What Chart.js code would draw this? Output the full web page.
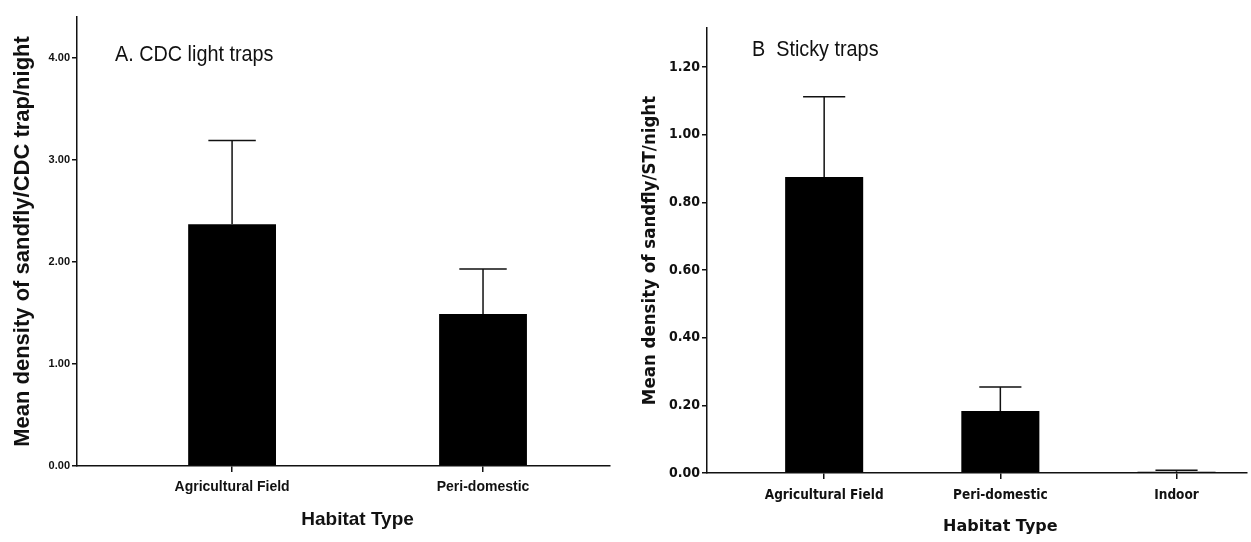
<!DOCTYPE html>
<html>
<head>
<meta charset="utf-8">
<script src="https://cdn.jsdelivr.net/npm/chart.js@4/dist/chart.umd.min.js"></script>
<style>
  html, body { margin: 0; padding: 0; background: #fff; }
  #wrap { position: relative; width: 1251px; height: 542px; }
  canvas { position: absolute; top: 0; }
  #cdcChart { left: 0; }
  #stickyChart { left: 625px; }
</style>
</head>
<body>
<div id="wrap">
  <canvas id="cdcChart" width="625" height="542"></canvas>
  <canvas id="stickyChart" width="626" height="542"></canvas>
</div>
<script>
// A. CDC light traps
const habitatsCdc = ['Agricultural Field', 'Peri-domestic'];
const meanCdc = [2.37, 1.49];
const upperCdc = [3.19, 1.93];
const ticksCdc = [0, 1, 2, 3, 4];

// B. Sticky traps
const habitatsSticky = ['Agricultural Field', 'Peri-domestic', 'Indoor'];
const meanSticky = [0.875, 0.183, 0.004];
const upperSticky = [1.113, 0.254, 0.008];
const ticksSticky = [0, 0.2, 0.4, 0.6, 0.8, 1.0, 1.2];

// upper error whisker + cap on each bar
const errorBars = {
  id: 'errorBars',
  afterDatasetsDraw(chart, args, opts) {
    const ctx = chart.ctx;
    const y = chart.scales.y;
    chart.getDatasetMeta(0).data.forEach((bar, i) => {
      const top = y.getPixelForValue(opts.upper[i]);
      const half = bar.width * 0.27;
      ctx.save();
      ctx.strokeStyle = '#111';
      ctx.lineWidth = 1.5;
      ctx.beginPath();
      ctx.moveTo(bar.x, bar.y);
      ctx.lineTo(bar.x, top);
      ctx.moveTo(bar.x - half, top);
      ctx.lineTo(bar.x + half, top);
      ctx.stroke();
      ctx.restore();
    });
  }
};

// panel caption inside the plot area (squeezed a little to look narrow),
// plus the x title centred over the span of the categories
const panelText = {
  id: 'panelText',
  afterDraw(chart, args, opts) {
    const ctx = chart.ctx;
    const area = chart.chartArea;
    ctx.save();
    ctx.fillStyle = '#111';
    ctx.textBaseline = 'middle';
    ctx.save();
    ctx.font = opts.captionFont;
    ctx.translate(area.left + opts.dx, area.top + opts.dy);
    ctx.scale(opts.squeeze, 1);
    ctx.fillText(opts.caption, 0, 0);
    ctx.restore();

    const x = chart.scales.x;
    const mid = (x.getPixelForValue(0) + x.getPixelForValue(opts.count - 1)) / 2;
    ctx.font = opts.xTitleFont;
    ctx.textAlign = 'center';
    ctx.fillText(opts.xTitle, mid, chart.height - opts.xTitleBottom);
    ctx.restore();
  }
};

function makeChart(id, cfg) {
  return new Chart(document.getElementById(id), {
    type: 'bar',
    data: {
      datasets: [{
        data: cfg.values.map((v, i) => ({ x: i, y: v })),
        backgroundColor: '#000',
        borderWidth: 0,
        categoryPercentage: 1,
        barPercentage: cfg.barPct
      }]
    },
    options: {
      responsive: false,
      animation: false,
      events: [],
      layout: { padding: cfg.padding },
      plugins: {
        legend: { display: false },
        tooltip: { enabled: false },
        errorBars: { upper: cfg.upper },
        panelText: Object.assign({ count: cfg.habitats.length, xTitle: 'Habitat Type' }, cfg.text)
      },
      scales: {
        x: {
          type: 'linear',
          offset: false,
          min: cfg.xMin,
          max: cfg.xMax,
          afterBuildTicks: s => { s.ticks = cfg.habitats.map((_, i) => ({ value: i })); },
          afterFit: s => { s.height = cfg.xHeight; },
          grid: { offset: false, drawOnChartArea: false, drawTicks: true, tickLength: 6, color: '#111', lineWidth: 1.5 },
          border: { display: true, color: '#111', width: 1.5 },
          ticks: {
            autoSkip: false, maxRotation: 0, padding: cfg.xTickPad, color: '#111',
            font: cfg.xTickFont,
            callback: v => cfg.habitats[v]
          }
        },
        y: {
          min: 0,
          max: cfg.yMax,
          afterBuildTicks: s => { s.ticks = cfg.ticks.map(v => ({ value: v })); },
          afterFit: s => { s.width = cfg.yWidth; },
          grid: { drawOnChartArea: false, drawTicks: true, tickLength: 5, color: '#111', lineWidth: 1.5 },
          border: { display: true, color: '#111', width: 1.5 },
          ticks: {
            padding: 2, color: '#111', font: cfg.yTickFont,
            callback: v => v.toFixed(2)
          },
          title: {
            display: true, text: cfg.yTitle, color: '#111',
            font: cfg.yTitleFont, padding: { top: cfg.yTitlePad, bottom: 0 }
          }
        }
      }
    },
    plugins: [errorBars, panelText]
  });
}

makeChart('cdcChart', {
  habitats: habitatsCdc, values: meanCdc, upper: upperCdc, ticks: ticksCdc,
  yMax: 4.4, xMin: -0.618, xMax: 1.506, barPct: 0.35,
  padding: { top: 17, right: 15, left: 0, bottom: 0 },
  xHeight: 76, yWidth: 77, xTickPad: 7, yTitlePad: 10,
  xTickFont: { family: '"Liberation Sans", Arial, sans-serif', size: 14, weight: 'bold' },
  yTickFont: { family: '"Liberation Sans", Arial, sans-serif', size: 11, weight: 'bold' },
  yTitleFont: { family: '"Liberation Sans", Arial, sans-serif', size: 22, weight: 'bold' },
  yTitle: 'Mean density of sandfly/CDC trap/night',
  text: {
    caption: 'A. CDC light traps', dx: 38, dy: 38, squeeze: 0.9,
    captionFont: '22px "Liberation Sans", Arial, sans-serif',
    xTitleFont: 'bold 19px "Liberation Sans", Arial, sans-serif', xTitleBottom: 22
  }
});

makeChart('stickyChart', {
  habitats: habitatsSticky, values: meanSticky, upper: upperSticky, ticks: ticksSticky,
  yMax: 1.316, xMin: -0.665, xMax: 2.40, barPct: 0.443,
  padding: { top: 28, right: 4, left: 0, bottom: 0 },
  xHeight: 69, yWidth: 82, xTickPad: 8, yTitlePad: 14,
  xTickFont: { family: '"DejaVu Sans Condensed", "DejaVu Sans", sans-serif', size: 13.5, weight: 'bold' },
  yTickFont: { family: '"DejaVu Sans Condensed", "DejaVu Sans", sans-serif', size: 14, weight: 'bold' },
  yTitleFont: { family: '"DejaVu Sans Condensed", "DejaVu Sans", sans-serif', size: 18.5, weight: 'bold' },
  yTitle: 'Mean density of sandfly/ST/night',
  text: {
    caption: 'B  Sticky traps', dx: 45, dy: 22, squeeze: 0.9,
    captionFont: '22px "Liberation Sans", Arial, sans-serif',
    xTitleFont: 'bold 16px "DejaVu Sans", sans-serif', xTitleBottom: 15
  }
});
</script>
</body>
</html>
